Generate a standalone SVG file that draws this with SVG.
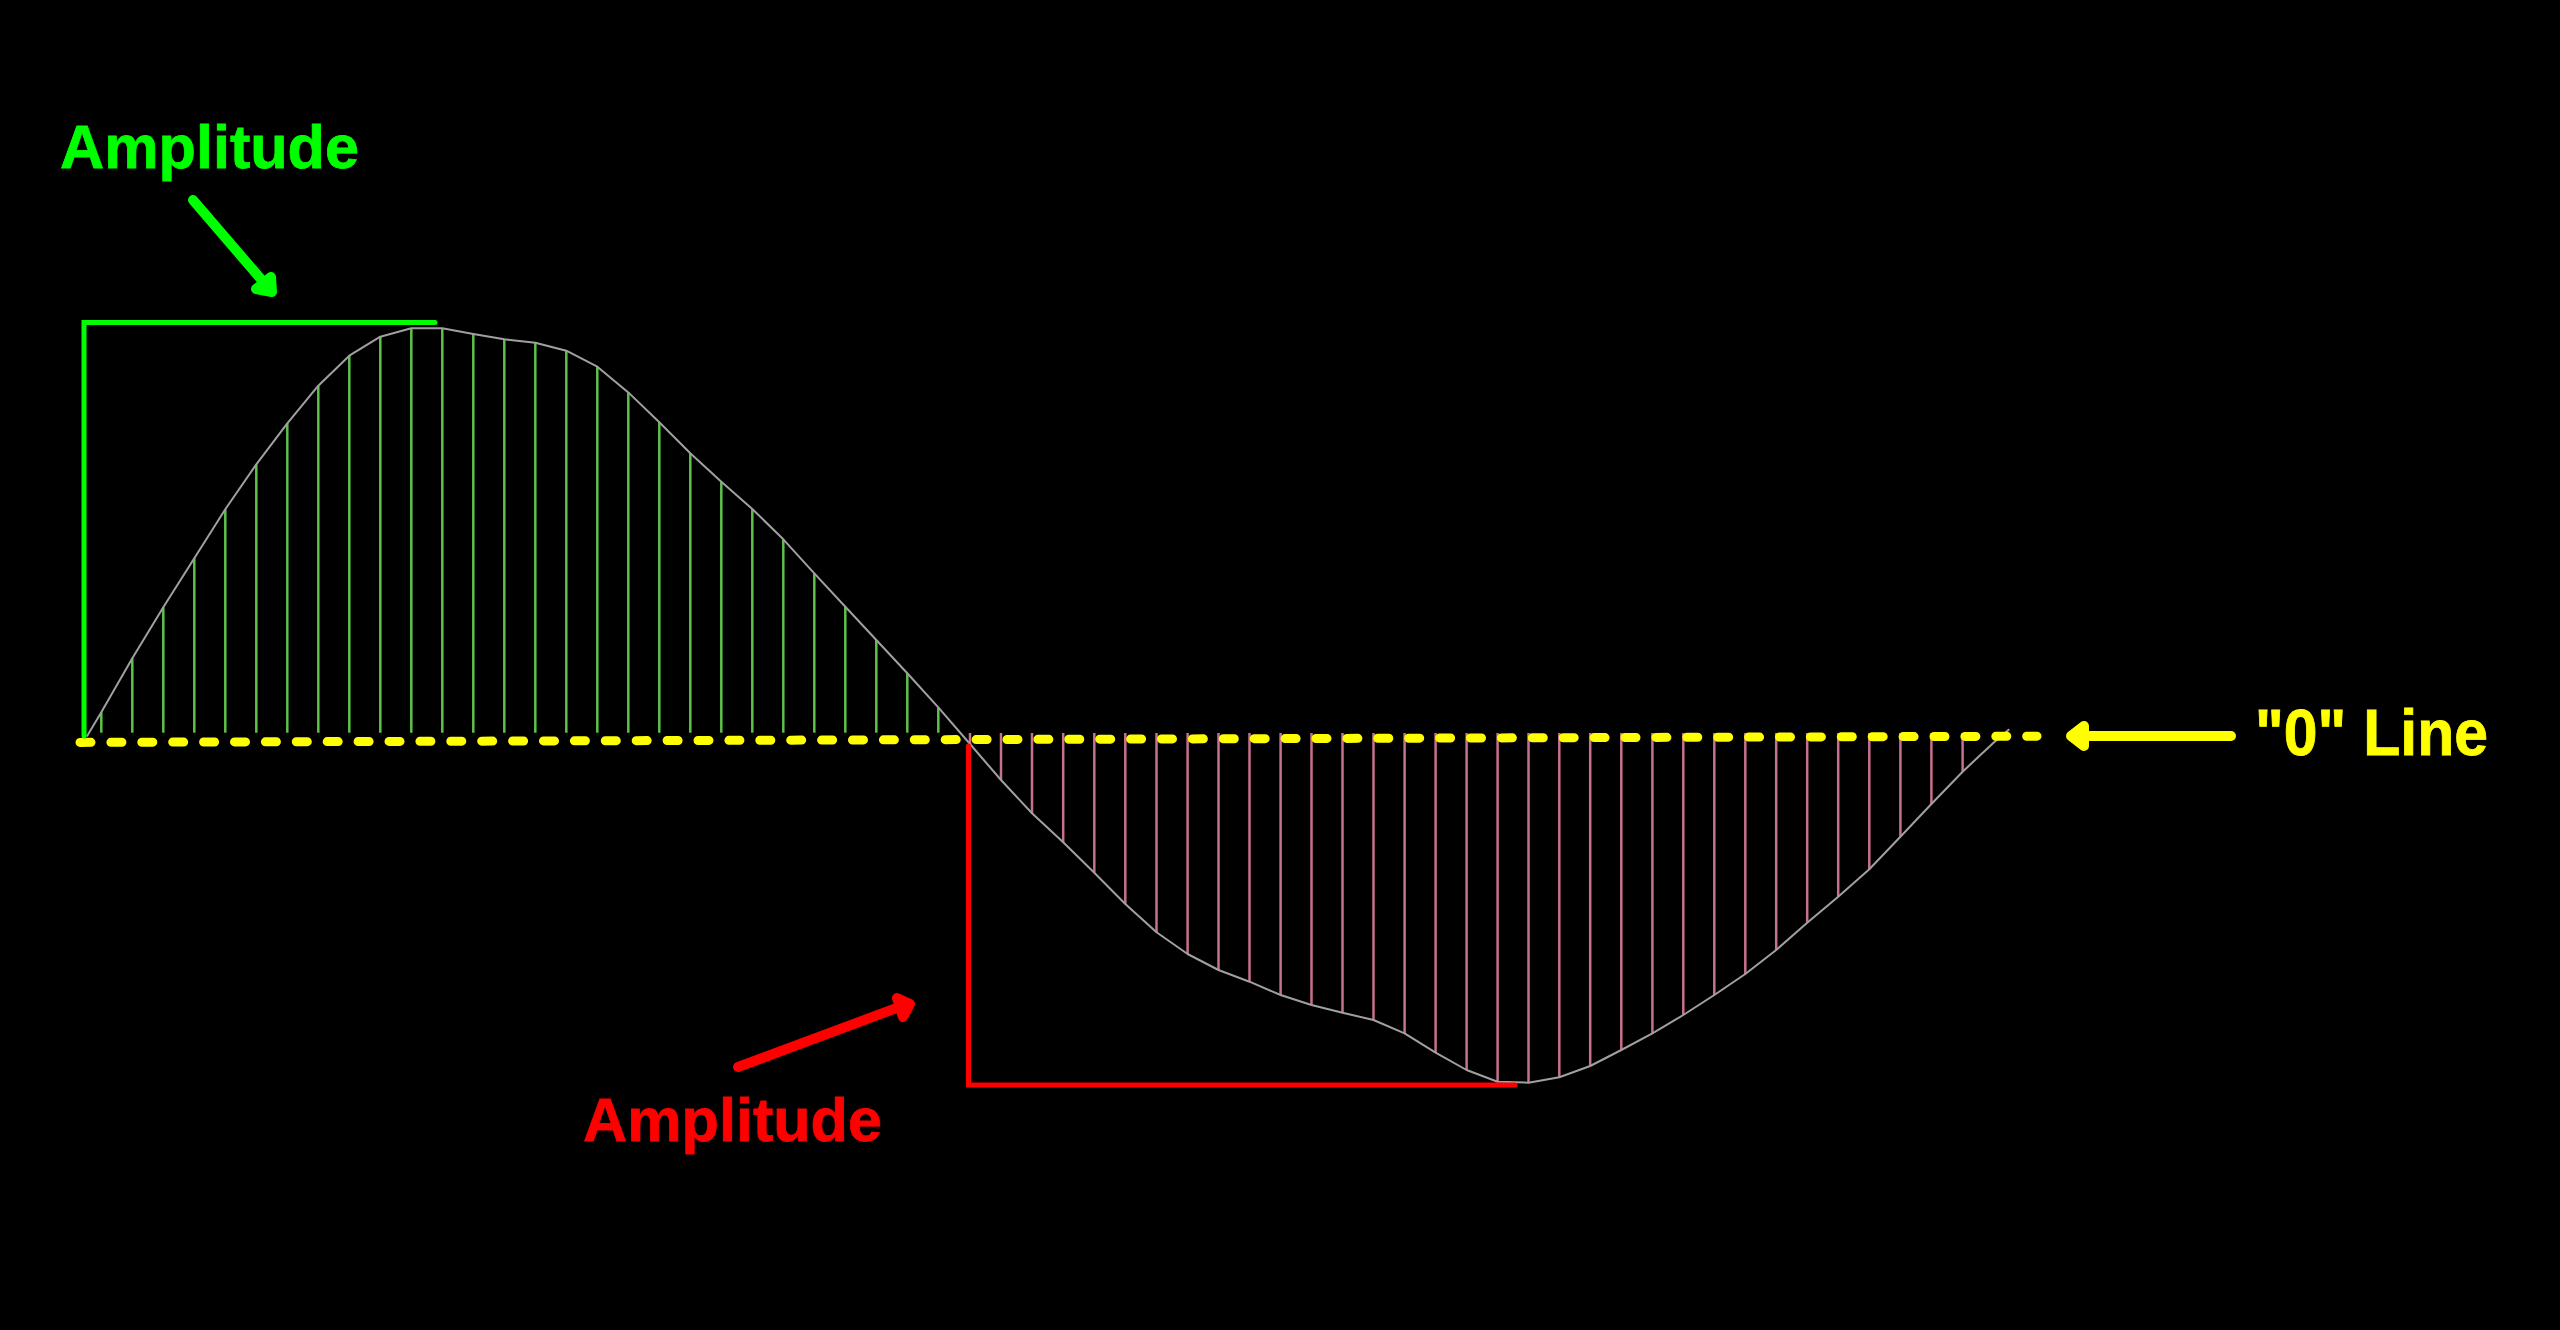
<svg xmlns="http://www.w3.org/2000/svg" width="2560" height="1330" viewBox="0 0 2560 1330">
<style>
.lbl{font-family:"Liberation Sans",Arial,sans-serif;font-weight:bold;stroke-width:0.8;}
.bracket{fill:none;stroke-width:5;stroke-linecap:round;stroke-linejoin:miter;}
.arrow{fill:none;stroke-width:10;stroke-linecap:round;stroke-linejoin:round;}
.head{stroke-width:10;stroke-linejoin:round;}
.gs{stroke:#5cc24a;stroke-width:2.5;}
.ps{stroke:#c8708f;stroke-width:2.5;}
.wave{fill:none;stroke:#a0a0a0;stroke-width:2;stroke-linejoin:round;}
</style>
<rect x="0" y="0" width="2560" height="1330" fill="#000"/>
<g id="samples-positive">
<line class="gs" x1="101.3" y1="732.7" x2="101.3" y2="712.3"/>
<line class="gs" x1="132.3" y1="732.7" x2="132.3" y2="658.3"/>
<line class="gs" x1="163.3" y1="732.7" x2="163.3" y2="607.3"/>
<line class="gs" x1="194.3" y1="732.7" x2="194.3" y2="558.3"/>
<line class="gs" x1="225.3" y1="732.7" x2="225.3" y2="509.3"/>
<line class="gs" x1="256.3" y1="732.7" x2="256.3" y2="464.3"/>
<line class="gs" x1="287.3" y1="732.7" x2="287.3" y2="423.3"/>
<line class="gs" x1="318.3" y1="732.7" x2="318.3" y2="385.7"/>
<line class="gs" x1="349.3" y1="732.7" x2="349.3" y2="355.7"/>
<line class="gs" x1="380.3" y1="732.7" x2="380.3" y2="336.7"/>
<line class="gs" x1="411.3" y1="732.7" x2="411.3" y2="328.3"/>
<line class="gs" x1="442.3" y1="732.7" x2="442.3" y2="328.3"/>
<line class="gs" x1="473.3" y1="732.7" x2="473.3" y2="334"/>
<line class="gs" x1="504.3" y1="732.7" x2="504.3" y2="339.3"/>
<line class="gs" x1="535.3" y1="732.7" x2="535.3" y2="342.7"/>
<line class="gs" x1="566.3" y1="732.7" x2="566.3" y2="350.7"/>
<line class="gs" x1="597.3" y1="732.7" x2="597.3" y2="366.7"/>
<line class="gs" x1="628.3" y1="732.7" x2="628.3" y2="392.4"/>
<line class="gs" x1="659.3" y1="732.7" x2="659.3" y2="422.2"/>
<line class="gs" x1="690.3" y1="732.7" x2="690.3" y2="453.3"/>
<line class="gs" x1="721.3" y1="732.7" x2="721.3" y2="481.7"/>
<line class="gs" x1="752.3" y1="732.7" x2="752.3" y2="509"/>
<line class="gs" x1="783.3" y1="732.7" x2="783.3" y2="539.3"/>
<line class="gs" x1="814.3" y1="732.7" x2="814.3" y2="573.3"/>
<line class="gs" x1="845.3" y1="732.7" x2="845.3" y2="606.7"/>
<line class="gs" x1="876.3" y1="732.7" x2="876.3" y2="640"/>
<line class="gs" x1="907.3" y1="732.7" x2="907.3" y2="673.3"/>
<line class="gs" x1="938.3" y1="732.7" x2="938.3" y2="707.3"/>
</g>
<g id="samples-negative">
<line class="ps" x1="970" y1="733" x2="970" y2="744"/>
<line class="ps" x1="1001" y1="733" x2="1001" y2="780"/>
<line class="ps" x1="1032" y1="733" x2="1032" y2="813.3"/>
<line class="ps" x1="1063.2" y1="733" x2="1063.2" y2="842.3"/>
<line class="ps" x1="1094.3" y1="733" x2="1094.3" y2="872.7"/>
<line class="ps" x1="1125.3" y1="733" x2="1125.3" y2="904"/>
<line class="ps" x1="1156.5" y1="733" x2="1156.5" y2="932.3"/>
<line class="ps" x1="1187.6" y1="733" x2="1187.6" y2="954"/>
<line class="ps" x1="1218.5" y1="733" x2="1218.5" y2="970"/>
<line class="ps" x1="1249.5" y1="733" x2="1249.5" y2="981.7"/>
<line class="ps" x1="1280.6" y1="733" x2="1280.6" y2="995"/>
<line class="ps" x1="1311.5" y1="733" x2="1311.5" y2="1005"/>
<line class="ps" x1="1342.5" y1="733" x2="1342.5" y2="1012.7"/>
<line class="ps" x1="1373.5" y1="733" x2="1373.5" y2="1020"/>
<line class="ps" x1="1404.6" y1="733" x2="1404.6" y2="1033.3"/>
<line class="ps" x1="1435.6" y1="733" x2="1435.6" y2="1052.7"/>
<line class="ps" x1="1466.6" y1="733" x2="1466.6" y2="1070"/>
<line class="ps" x1="1497.6" y1="733" x2="1497.6" y2="1081.7"/>
<line class="ps" x1="1528.5" y1="733" x2="1528.5" y2="1082.7"/>
<line class="ps" x1="1559.3" y1="733" x2="1559.3" y2="1077.3"/>
<line class="ps" x1="1590.2" y1="733" x2="1590.2" y2="1066"/>
<line class="ps" x1="1621.3" y1="733" x2="1621.3" y2="1050"/>
<line class="ps" x1="1652.4" y1="733" x2="1652.4" y2="1033.3"/>
<line class="ps" x1="1683.3" y1="733" x2="1683.3" y2="1015"/>
<line class="ps" x1="1714.3" y1="733" x2="1714.3" y2="995"/>
<line class="ps" x1="1745.3" y1="733" x2="1745.3" y2="974"/>
<line class="ps" x1="1776.2" y1="733" x2="1776.2" y2="950"/>
<line class="ps" x1="1807.2" y1="733" x2="1807.2" y2="922.7"/>
<line class="ps" x1="1838.2" y1="733" x2="1838.2" y2="896.7"/>
<line class="ps" x1="1869.3" y1="733" x2="1869.3" y2="869.3"/>
<line class="ps" x1="1900.4" y1="733" x2="1900.4" y2="836.7"/>
<line class="ps" x1="1931.4" y1="733" x2="1931.4" y2="804"/>
<line class="ps" x1="1962.6" y1="733" x2="1962.6" y2="771.7"/>
</g>
<g id="waveform">
<polyline class="wave" points="86.8,736.5 101.3,712.3 132.3,658.3 163.3,607.3 194.3,558.3 225.3,509.3 256.3,464.3 287.3,423.3 318.3,385.7 349.3,355.7 380.3,336.7 411.3,328.3 442.3,328.3 473.3,334 504.3,339.3 535.3,342.7 566.3,350.7 597.3,366.7 628.3,392.4 659.3,422.2 690.3,453.3 721.3,481.7 752.3,509 783.3,539.3 814.3,573.3 845.3,606.7 876.3,640 907.3,673.3 938.3,707.3 970,744 1001,780 1032,813.3 1063.2,842.3 1094.3,872.7 1125.3,904 1156.5,932.3 1187.6,954 1218.5,970 1249.5,981.7 1280.6,995 1311.5,1005 1342.5,1012.7 1373.5,1020 1404.6,1033.3 1435.6,1052.7 1466.6,1070 1497.6,1081.7 1528.5,1082.7 1559.3,1077.3 1590.2,1066 1621.3,1050 1652.4,1033.3 1683.3,1015 1714.3,995 1745.3,974 1776.2,950 1807.2,922.7 1838.2,896.7 1869.3,869.3 1900.4,836.7 1931.4,804 1962.6,771.7 1994.6,741.7 2009.3,729.3"/>
</g>
<g id="zero-line">
<line x1="80" y1="742.4" x2="2037" y2="736.2" stroke="#ffff00" stroke-width="9" stroke-linecap="round" stroke-dasharray="11 19.9"/>
</g>
<g id="amplitude-positive">
<polyline class="bracket" stroke="#00ff00" points="84,736 84,322.5 435,322.5"/>
<text class="lbl" x="60" y="167.7" font-size="62" fill="#00ff00" stroke="#00ff00" textLength="299" lengthAdjust="spacingAndGlyphs">Amplitude</text>
</g>
<g id="amplitude-negative">
<polyline class="bracket" stroke="#ff0000" points="968.5,746 968.5,1085 1515,1085"/>
<text class="lbl" x="583" y="1141" font-size="62" fill="#ff0000" stroke="#ff0000" textLength="299" lengthAdjust="spacingAndGlyphs">Amplitude</text>
</g>
<g id="zero-label">
<text class="lbl" x="2255" y="755" font-size="64" fill="#ffff00" stroke="#ffff00" textLength="233" lengthAdjust="spacingAndGlyphs">"0" Line</text>
</g>
<g id="connectors">
<path class="arrow" stroke="#00ff00" d="M193,200 L266,285"/>
<polygon class="head" fill="#00ff00" stroke="#00ff00" points="271,277 272,292 256,289"/>
<path class="arrow" stroke="#ff0000" d="M738,1067 L902,1006"/>
<polygon class="head" fill="#ff0000" stroke="#ff0000" points="897,998 910,1004 903,1017"/>
<path class="arrow" stroke="#ffff00" d="M2231,736 L2076,736"/>
<polygon class="head" fill="#ffff00" stroke="#ffff00" points="2071,736 2084,726 2084,746"/>
</g>
</svg>
